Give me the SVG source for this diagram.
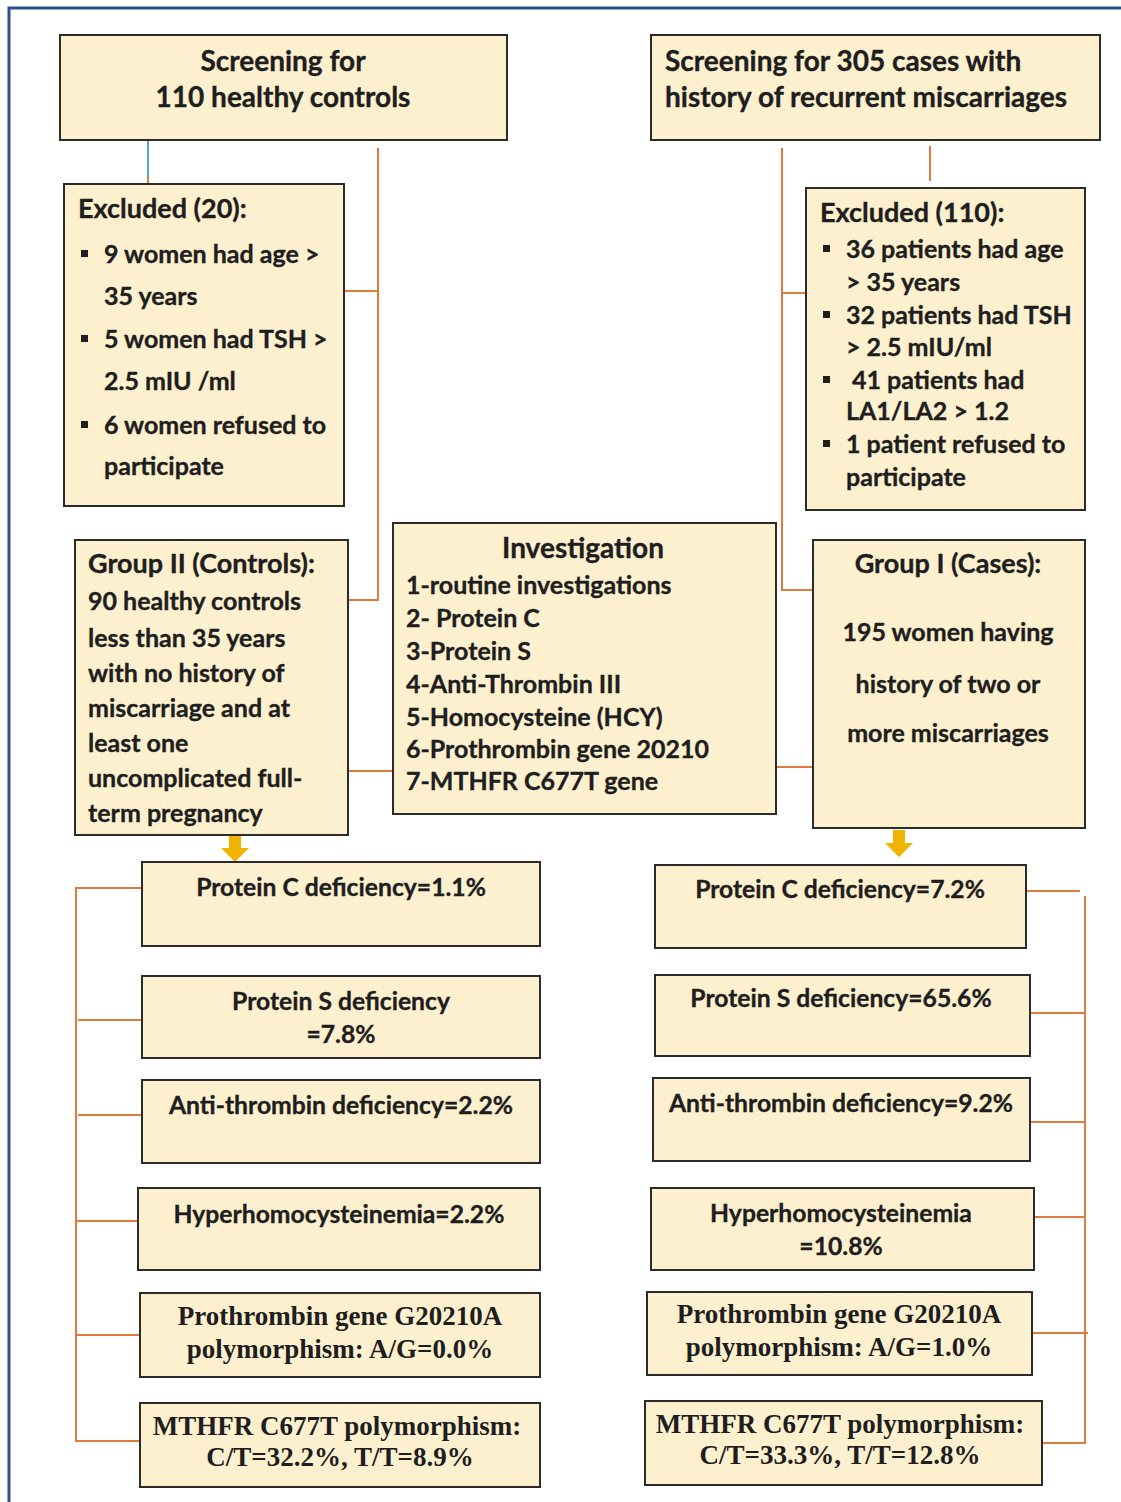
<svg xmlns="http://www.w3.org/2000/svg" width="1121" height="1502" viewBox="0 0 1121 1502">
<style>
.box{fill:#fdf0cf;stroke:#2b2b2b;stroke-width:2}
.t{font-family:Lato,"Open Sans","Liberation Sans",sans-serif;font-weight:bold;fill:#1e1e1e;stroke:#1e1e1e;stroke-width:0.35}
.s{font-family:"Liberation Serif","Times New Roman",serif;font-weight:bold;fill:#1e1e1e}
.c{text-anchor:middle}
.f28{font-size:28px}
.f27{font-size:27px}
.f25{font-size:25px}
.f24{font-size:24.7px}
.fs{font-size:27px}
.ln{stroke:#e07b3c;stroke-width:2;fill:none}
.ar{fill:#f0b400}
.bl{fill:#1e1e1e}
</style>
<rect x="0" y="0" width="1121" height="1502" fill="#ffffff"/>
<path d="M9,1502 V8 H1121" fill="none" stroke="#2d4f8f" stroke-width="3"/>

<g id="connectors">
  <line x1="148" y1="141" x2="148" y2="176" stroke="#5aa7c8" stroke-width="2"/>
  <line x1="148" y1="176" x2="148" y2="184" class="ln"/>
  <polyline class="ln" points="378,148 378,600 348,600"/>
  <line class="ln" x1="344" y1="291" x2="378" y2="291"/>
  <line class="ln" x1="348" y1="771" x2="393" y2="771"/>
  <polyline class="ln" points="782,148 782,590 813,590"/>
  <line class="ln" x1="782" y1="293" x2="806" y2="293"/>
  <line class="ln" x1="930" y1="146" x2="930" y2="181"/>
  <line class="ln" x1="776" y1="767" x2="820" y2="767"/>
  <path class="ar" d="M229,836 H241 V848 H249 L235,862 L221,848 H229 Z"/>
  <path class="ar" d="M893,830 H905 V843 H913 L899,857 L885,843 H893 Z"/>
  <polyline class="ln" points="142,888 76,888 76,1441 140,1441"/>
  <line class="ln" x1="78" y1="1020" x2="142" y2="1020"/>
  <line class="ln" x1="78" y1="1115" x2="142" y2="1115"/>
  <line class="ln" x1="76" y1="1221" x2="138" y2="1221"/>
  <line class="ln" x1="76" y1="1335" x2="140" y2="1335"/>
  <polyline class="ln" points="1026,891 1080,891"/>
  <polyline class="ln" points="1085,896 1085,1443 1042,1443"/>
  <line class="ln" x1="1030" y1="1013" x2="1085" y2="1013"/>
  <line class="ln" x1="1030" y1="1122" x2="1085" y2="1122"/>
  <line class="ln" x1="1034" y1="1217" x2="1085" y2="1217"/>
  <line class="ln" x1="1032" y1="1333" x2="1088" y2="1333"/>
</g>

<g id="screen-controls">
  <rect class="box" x="60" y="35" width="447" height="105"/>
  <text class="t f28 c" x="283" y="71">Screening for</text>
  <text class="t f28 c" x="283" y="107">110 healthy controls</text>
</g>

<g id="screen-cases">
  <rect class="box" x="651" y="35" width="449" height="105"/>
  <text class="t f28" x="665" y="71">Screening for 305 cases with</text>
  <text class="t f28" x="665" y="107">history of recurrent miscarriages</text>
</g>

<g id="excluded-controls">
  <rect class="box" x="64" y="184" width="280" height="322"/>
  <text class="t f27" x="78" y="218">Excluded (20):</text>
  <rect class="bl" x="81" y="250" width="7" height="7"/>
  <text class="t f25" x="104" y="263">9 women had age &gt;</text>
  <text class="t f25" x="104" y="305">35 years</text>
  <rect class="bl" x="81" y="335" width="7" height="7"/>
  <text class="t f25" x="104" y="348">5 women had TSH &gt;</text>
  <text class="t f25" x="104" y="390">2.5 mIU /ml</text>
  <rect class="bl" x="81" y="421" width="7" height="7"/>
  <text class="t f25" x="104" y="434">6 women refused to</text>
  <text class="t f25" x="104" y="475">participate</text>
</g>

<g id="excluded-cases">
  <rect class="box" x="806" y="188" width="279" height="322"/>
  <text class="t f27" x="820" y="222">Excluded (110):</text>
  <rect class="bl" x="823" y="245" width="7" height="7"/>
  <text class="t f25" x="846" y="258">36 patients had age</text>
  <text class="t f25" x="846" y="291">&gt; 35 years</text>
  <rect class="bl" x="823" y="311" width="7" height="7"/>
  <text class="t f25" x="846" y="324">32 patients had TSH</text>
  <text class="t f25" x="846" y="356">&gt; 2.5 mIU/ml</text>
  <rect class="bl" x="823" y="376" width="7" height="7"/>
  <text class="t f25" x="852" y="389">41 patients had</text>
  <text class="t f25" x="846" y="420">LA1/LA2 &gt; 1.2</text>
  <rect class="bl" x="823" y="440" width="7" height="7"/>
  <text class="t f25" x="846" y="453">1 patient refused to</text>
  <text class="t f25" x="846" y="486">participate</text>
</g>

<g id="group-ii">
  <rect class="box" x="75" y="540" width="273" height="295"/>
  <text class="t f27" x="88" y="573">Group II (Controls):</text>
  <text class="t f25" x="88" y="610">90 healthy controls</text>
  <text class="t f25" x="88" y="647">less than 35 years</text>
  <text class="t f25" x="88" y="682">with no history of</text>
  <text class="t f25" x="88" y="717">miscarriage and at</text>
  <text class="t f25" x="88" y="752">least one</text>
  <text class="t f25" x="88" y="787">uncomplicated full-</text>
  <text class="t f25" x="88" y="822">term pregnancy</text>
</g>

<g id="investigation">
  <rect class="box" x="393" y="523" width="383" height="291"/>
  <text class="t f28 c" x="583" y="558">Investigation</text>
  <text class="t f25" x="406" y="594">1-routine investigations</text>
  <text class="t f25" x="406" y="627">2- Protein C</text>
  <text class="t f25" x="406" y="660">3-Protein S</text>
  <text class="t f25" x="406" y="693">4-Anti-Thrombin III</text>
  <text class="t f25" x="406" y="726">5-Homocysteine (HCY)</text>
  <text class="t f25" x="406" y="758">6-Prothrombin gene 20210</text>
  <text class="t f25" x="406" y="790">7-MTHFR C677T gene</text>
</g>

<g id="group-i">
  <rect class="box" x="813" y="540" width="272" height="288"/>
  <text class="t f27 c" x="948" y="573">Group I (Cases):</text>
  <text class="t f25 c" x="948" y="641">195 women having</text>
  <text class="t f25 c" x="948" y="693">history of two or</text>
  <text class="t f25 c" x="948" y="742">more miscarriages</text>
</g>

<g id="ctrl-protein-c">
  <rect class="box" x="142" y="862" width="398" height="84"/>
  <text class="t f24 c" x="341" y="896">Protein C deficiency=1.1%</text>
</g>
<g id="ctrl-protein-s">
  <rect class="box" x="142" y="976" width="398" height="82"/>
  <text class="t f24 c" x="341" y="1010">Protein S deficiency</text>
  <text class="t f24 c" x="341" y="1043">=7.8%</text>
</g>
<g id="ctrl-antithrombin">
  <rect class="box" x="142" y="1080" width="398" height="83"/>
  <text class="t f24 c" x="341" y="1114">Anti-thrombin deficiency=2.2%</text>
</g>
<g id="ctrl-hyperhomo">
  <rect class="box" x="138" y="1188" width="402" height="82"/>
  <text class="t f24 c" x="339" y="1223">Hyperhomocysteinemia=2.2%</text>
</g>
<g id="ctrl-prothrombin">
  <rect class="box" x="140" y="1293" width="400" height="84"/>
  <text class="s fs c" x="340" y="1325">Prothrombin gene G20210A</text>
  <text class="s fs c" x="340" y="1358">polymorphism: A/G=0.0%</text>
</g>
<g id="ctrl-mthfr">
  <rect class="box" x="140" y="1403" width="400" height="84"/>
  <text class="s fs c" x="337" y="1435">MTHFR C677T polymorphism:</text>
  <text class="s fs c" x="340" y="1466">C/T=32.2%, T/T=8.9%</text>
</g>

<g id="case-protein-c">
  <rect class="box" x="655" y="865" width="371" height="83"/>
  <text class="t f24 c" x="840" y="898">Protein C deficiency=7.2%</text>
</g>
<g id="case-protein-s">
  <rect class="box" x="655" y="975" width="375" height="81"/>
  <text class="t f24 c" x="841" y="1007">Protein S deficiency=65.6%</text>
</g>
<g id="case-antithrombin">
  <rect class="box" x="653" y="1078" width="377" height="83"/>
  <text class="t f24 c" x="841" y="1112">Anti-thrombin deficiency=9.2%</text>
</g>
<g id="case-hyperhomo">
  <rect class="box" x="651" y="1188" width="383" height="82"/>
  <text class="t f24 c" x="841" y="1222">Hyperhomocysteinemia</text>
  <text class="t f24 c" x="841" y="1255">=10.8%</text>
</g>
<g id="case-prothrombin">
  <rect class="box" x="647" y="1292" width="385" height="83"/>
  <text class="s fs c" x="839" y="1323">Prothrombin gene G20210A</text>
  <text class="s fs c" x="839" y="1356">polymorphism: A/G=1.0%</text>
</g>
<g id="case-mthfr">
  <rect class="box" x="645" y="1401" width="397" height="84"/>
  <text class="s fs c" x="840" y="1433">MTHFR C677T polymorphism:</text>
  <text class="s fs c" x="840" y="1464">C/T=33.3%, T/T=12.8%</text>
</g>
</svg>
